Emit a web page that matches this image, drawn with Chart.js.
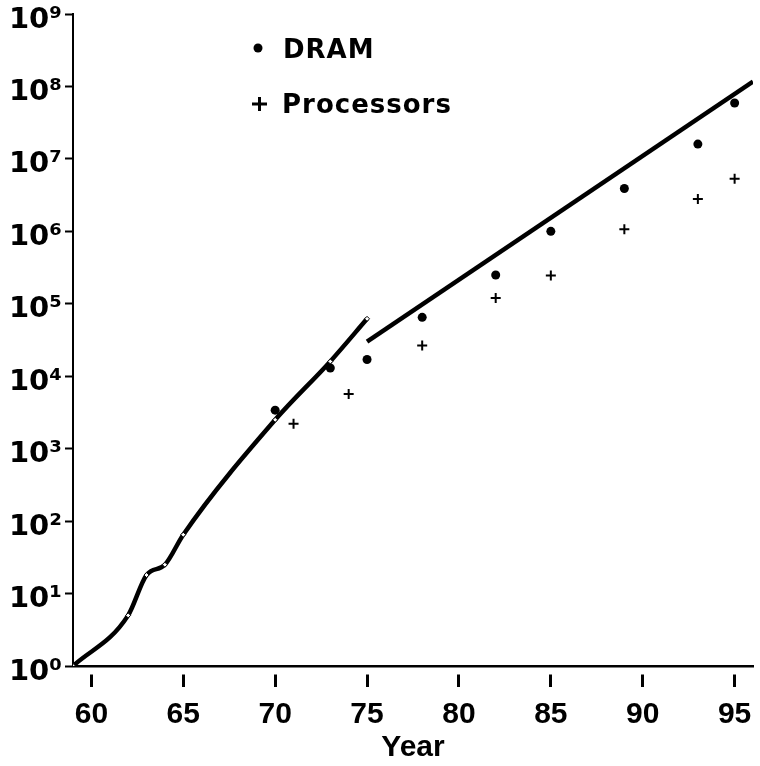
<!DOCTYPE html>
<html>
<head>
<meta charset="utf-8">
<title>DRAM and processor transistor counts</title>
<script src="https://cdn.jsdelivr.net/npm/chart.js@4.4.1/dist/chart.umd.min.js"></script>
<style>
  html, body { margin: 0; padding: 0; background: #fff; }
  #wrap { width: 760px; height: 766px; position: relative; }
</style>
</head>
<body>
<div id="wrap"><canvas id="chart"></canvas></div>
<script>
// --- Data ---
const xTicks = [60, 65, 70, 75, 80, 85, 90, 95];
const yTicks = [1, 1e1, 1e2, 1e3, 1e4, 1e5, 1e6, 1e7, 1e8, 1e9];

// early trend curve (with small markers)
const trendYears = [59, 62, 63, 64, 65, 70, 73, 75];
const trendValues = [1, 5, 18, 25, 65, 2500, 16000, 62000];

// straight trend line after 1975
const fitYears = [75, 96];
const fitValues = [30000, 1.17e8];

const dramYears = [70, 73, 75, 78, 82, 85, 89, 93, 95];
const dramValues = [3400, 13000, 17000, 65000, 250000, 1e6, 3.9e6, 1.6e7, 5.9e7];

const procYears = [71, 74, 78, 82, 85, 89, 93, 95];
const procValues = [2200, 5700, 26500, 120000, 245000, 1.07e6, 2.8e6, 5.3e6];

const toPoints = (xs, ys) => xs.map((x, i) => ({ x, y: ys[i] }));
const sup = ['⁰', '¹', '²', '³', '⁴', '⁵', '⁶', '⁷', '⁸', '⁹'];

// --- Legend drawn inside the plot, like the original ---
const insideLegend = {
  id: 'insideLegend',
  afterDraw(chart) {
    const ctx = chart.ctx;
    ctx.save();
    ctx.fillStyle = '#000';
    ctx.strokeStyle = '#000';
    ctx.font = 'bold 26px "DejaVu Sans"';
    ctx.letterSpacing = '1px';
    ctx.textBaseline = 'alphabetic';

    // DRAM: dot
    ctx.beginPath();
    ctx.arc(258, 48, 4.5, 0, Math.PI * 2);
    ctx.fill();
    ctx.fillText('DRAM', 283, 58);

    // Processors: plus
    ctx.lineWidth = 3;
    ctx.beginPath();
    ctx.moveTo(252, 104); ctx.lineTo(267, 104);
    ctx.moveTo(259.5, 97); ctx.lineTo(259.5, 111);
    ctx.stroke();
    ctx.fillText('Processors', 282, 113);
    ctx.restore();
  }
};

new Chart(document.getElementById('chart'), {
  type: 'scatter',
  data: {
    datasets: [
      {
        label: 'Trend',
        data: toPoints(trendYears, trendValues),
        showLine: true,
        borderColor: '#000',
        borderWidth: 4.5,
        cubicInterpolationMode: 'monotone',
        pointStyle: 'rectRot',
        pointRadius: 2.5,
        pointBackgroundColor: '#fff',
        pointBorderColor: '#000',
        pointBorderWidth: 1
      },
      {
        label: 'Fit',
        data: toPoints(fitYears, fitValues),
        showLine: true,
        borderColor: '#000',
        borderWidth: 4.5,
        pointRadius: 0
      },
      {
        label: 'DRAM',
        data: toPoints(dramYears, dramValues),
        pointStyle: 'circle',
        pointRadius: 4.5,
        pointBackgroundColor: '#000',
        pointBorderColor: '#000',
        pointBorderWidth: 0
      },
      {
        label: 'Processors',
        data: toPoints(procYears, procValues),
        pointStyle: 'cross',
        pointRadius: 5,
        pointBorderColor: '#000',
        pointBorderWidth: 2
      }
    ]
  },
  options: {
    responsive: true,
    maintainAspectRatio: false,
    animation: false,
    layout: { padding: { top: 14, right: 6, left: 0, bottom: 0 } },
    plugins: {
      legend: { display: false },
      tooltip: { enabled: false }
    },
    scales: {
      x: {
        type: 'linear',
        min: 59,
        max: 96,
        afterBuildTicks: s => { s.ticks = xTicks.map(v => ({ value: v })); },
        afterFit: s => { s.height = 100; s.paddingLeft = 0; s.paddingRight = 0; },
        border: { display: true, color: '#000', width: 2.5 },
        grid: {
          drawOnChartArea: false,
          drawTicks: true,
          tickLength: 21,
          tickWidth: 3,
          tickColor: '#000',
          tickBorderDash: [0, 7, 14, 60]
        },
        ticks: {
          color: '#000',
          padding: 10,
          maxRotation: 0,
          autoSkip: false,
          font: { family: '"Liberation Sans", Arial, sans-serif', weight: 'bold', size: 30 }
        },
        title: {
          display: true,
          text: 'Year',
          color: '#000',
          padding: { top: 0, bottom: 0 },
          font: { family: '"Liberation Sans", Arial, sans-serif', weight: 'bold', size: 30 }
        }
      },
      y: {
        type: 'logarithmic',
        min: 1,
        max: 1e9,
        afterBuildTicks: s => { s.ticks = yTicks.map(v => ({ value: v })); },
        afterFit: s => { s.width = 73; s.paddingTop = 0; s.paddingBottom = 0; },
        border: { display: true, color: '#000', width: 2 },
        grid: {
          drawOnChartArea: false,
          drawTicks: true,
          tickLength: 8,
          tickWidth: 2,
          tickColor: '#000'
        },
        ticks: {
          color: '#000',
          padding: 3,
          labelOffset: 6,
          autoSkip: false,
          callback: v => '10' + sup[Math.round(Math.log10(v))],
          font: { family: '"DejaVu Sans", sans-serif', weight: 'bold', size: 29 }
        }
      }
    }
  },
  plugins: [insideLegend]
});
</script>
</body>
</html>
